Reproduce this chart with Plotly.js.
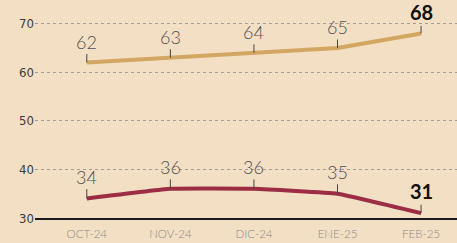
<!DOCTYPE html>
<html><head><meta charset="utf-8">
<script src="https://cdn.plot.ly/plotly-3.0.1.min.js"></script>
<style>html,body{margin:0;padding:0;background:#F3DFC4;}</style>
</head><body><div id="chart" style="width:457px;height:243px;"></div>
<script>
const months = ['OCT-24','NOV-24','DIC-24','ENE-25','FEB-25'];
const seriesGold = [62, 63, 64, 65, 68];
const seriesRed = [34, 36, 36, 35, 31];
const yTicks = [30, 40, 50, 60, 70];

const xIdx = months.map((m, i) => i);
const gold = '#D3A761', red = '#9C2D45', bg = '#F3DFC4';

function labels(vals, ay) {
  return vals.map((v, i) => {
    const last = i === vals.length - 1;
    return {
      x: i, y: v, xref: 'x', yref: 'y',
      text: last ? '<b>' + v + '</b>' : String(v),
      showarrow: true, arrowhead: 0, arrowwidth: 1, arrowcolor: '#444',
      ax: 0, ay: ay, standoff: 0,
      font: last ? {family: 'Lato, "Open Sans", sans-serif', size: 20, color: '#111'}
                 : {family: 'Lato, "Open Sans", sans-serif', size: 18, color: '#505050', weight: 300}
    };
  });
}

const data = [
  {x: xIdx, y: seriesGold, type: 'scatter', mode: 'lines', line: {color: gold, width: 4}, hoverinfo: 'skip'},
  {x: xIdx, y: seriesRed, type: 'scatter', mode: 'lines', line: {color: red, width: 4, shape: 'spline', smoothing: 0.3}, hoverinfo: 'skip'}
];

const layout = {
  width: 457, height: 243,
  paper_bgcolor: bg, plot_bgcolor: bg,
  margin: {l: 35, r: 0, t: 14, b: 25},
  showlegend: false,
  xaxis: {
    range: [-0.62, 4.43], tickmode: 'array', tickvals: xIdx, ticktext: months,
    showgrid: false, zeroline: false, showline: true, linecolor: '#1a1a1a', linewidth: 2,
    ticks: '', ticklabelstandoff: 4,
    tickfont: {family: 'Lato, "DejaVu Sans Condensed", sans-serif', size: 11.5, color: '#8a8a8a', weight: 300}
  },
  yaxis: {
    range: [30, 72], tickmode: 'array', tickvals: yTicks, ticktext: yTicks.map(String),
    showgrid: true, gridcolor: '#a29c92', griddash: 'dot', gridwidth: 1,
    zeroline: false, showline: false, ticks: '',
    tickfont: {family: '"Liberation Sans Narrow", "DejaVu Sans Condensed", sans-serif', size: 13, color: '#3c3c3c'}
  },
  annotations: labels(seriesGold, -21).concat(labels(seriesRed, -22))
};

Plotly.newPlot('chart', data, layout, {staticPlot: true, displayModeBar: false});
</script></body></html>
